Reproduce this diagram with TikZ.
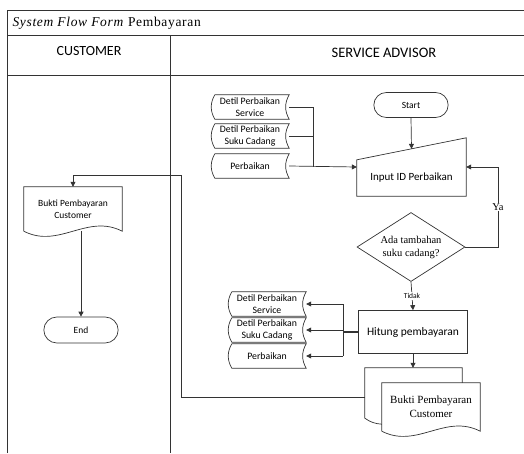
\documentclass[tikz,border=0pt]{standalone}
\usepackage{fontspec}
\setmainfont{Liberation Serif}
\newfontfamily\carlito{Carlito}
\usetikzlibrary{shapes.geometric,shapes.misc,arrows.meta,calc}

\tikzset{
  line/.style={draw=black!80, line width=0.7pt},
  arr/.style={line, -{Triangle[length=5pt,width=5pt]}},
  sans/.style={font=\carlito\fontsize{9.5}{12}\selectfont},
  terminal/.style={rounded rectangle, line, sans, minimum width=81pt, minimum height=25pt},
  proc/.style={rectangle, line, font=\carlito\fontsize{11.5}{13}\selectfont, minimum width=109pt, minimum height=43pt},
  decision/.style={diamond, line, align=center, inner sep=0pt, aspect=1.57,
    minimum width=108pt, minimum height=69pt, font=\fontsize{10.5}{13}\selectfont},
  stored/.style={align=center, inner sep=0pt, minimum width=78pt, minimum height=24pt,
    font=\carlito\fontsize{9.8}{12.5}\selectfont,
    append after command={\pgfextra{
      \draw[line] ($(\tikzlastnode.north west)+(4,0)$) -- (\tikzlastnode.north east)
        to[bend right=30] (\tikzlastnode.south east) -- ($(\tikzlastnode.south west)+(4,0)$)
        to[bend left=30] ($(\tikzlastnode.north west)+(4,0)$);}}},
  doc/.style={align=center, inner sep=1pt, minimum width=98pt, minimum height=44pt,
    append after command={\pgfextra{
      \draw[line] (\tikzlastnode.south west) -- (\tikzlastnode.north west) -- (\tikzlastnode.north east)
        -- (\tikzlastnode.south east) .. controls +(-35,-18) and +(35,18) .. (\tikzlastnode.south west);}}},
}

\begin{document}
\begin{tikzpicture}[x=1pt, y=-1pt]
	\useasboundingbox (0,0) rectangle (524,453);

% kerangka swimlane
\draw[line] (7,453) -- (7,10) -- (524,10);
\draw[line] (7,35) -- (524,35);
\draw[line] (7,75) -- (524,75);
\draw[line] (170,35) -- (170,453);
\node[anchor=west, font=\fontsize{13.5}{15}\selectfont\addfontfeature{LetterSpace=5}] (judul) at (9,23) {\textit{System Flow Form} Pembayaran};
\node[font=\carlito\fontsize{14}{16}\selectfont] (lcust) at (89,51) {CUSTOMER};
\node[font=\carlito\fontsize{14.5}{16}\selectfont] (lsa) at (384,53) {SERVICE ADVISOR};

% SERVICE ADVISOR
\node[terminal] (st) at (411,105) {Start};
\node[font=\carlito\fontsize{11}{13}\selectfont, minimum width=109pt, minimum height=36pt] (inp) at (411.5,178) {Input ID Perbaikan};
\draw[line] (inp.north west) -- ($(inp.north east)+(0,-22)$) -- (inp.south east) -- (inp.south west) -- cycle;
\node[decision] (dec) at (411,247) {Ada tambahan\\suku cadang?};
\node[proc] (hit) at (413,332) {Hitung pembayaran};

\node[stored] (s1) at (250,107) {Detil Perbaikan\\Service};
\node[stored] (s2) at (250,136) {Detil Perbaikan\\Suku Cadang};
\node[stored] (s3) at (250,166) {Perbaikan};

\node[stored] (t1) at (267,304) {Detil Perbaikan\\Service};
\node[stored] (t2) at (267,330) {Detil Perbaikan\\Suku Cadang};
\node[stored] (t3) at (267,356) {Perbaikan};

\node[doc, minimum height=48pt, font=\fontsize{11}{14}\selectfont] (md) at (431,407) {Bukti Pembayaran\\Customer};
\draw[line] ($(md.south west)+(0,-7)$) to[bend left=15] ($(md.south west)+(-17,-13)$)
  |- ($(md.north east)+(-18,-15)$) -- ($(md.north east)+(-18,0)$);

% CUSTOMER
\node[doc, sans] (cd) at (73,209) {Bukti Pembayaran\\Customer};
\node[terminal, minimum height=26pt] (end) at (81,330) {End};

% alur
\coordinate (inL) at ($(inp.west)+(0,-11)$);
\coordinate (inR) at ($(inp.east)+(0,-11)$);
\coordinate (jn) at (313,167);
\coordinate (ya) at (498,247);
\coordinate (kr) at (343,332);
\coordinate (mdt) at ($(md.north)+(0,-15)$);
\coordinate (mdb) at ($(md.west)+(-17,-10)$);
\coordinate (tu) at (181,175);

\draw[arr] (st.south) -- ($(inp.north)+(0,-11)$);
\draw[line] (s1.east) -| (jn);
\draw[line] (s2.east) -- (s2.east -| jn);
\draw[arr] (s3.east) -- (inL);
\draw[arr] (dec.south) -- (hit.north);
\node[fill=white, inner sep=1pt, font=\carlito\fontsize{7.5}{8}\selectfont] (tidak) at (412,296) {Tidak};
\draw[arr] (dec.east) -- (ya) |- (inR);
\node[fill=white, inner sep=1pt, font=\fontsize{10.5}{11}\selectfont] (lya) at (498,207) {Ya};

\draw[line, line width=1.6pt] (hit.west) -- (kr);
\draw[line] (kr |- t1.east) -- (kr |- t3.east);
\foreach \t in {t1,t2,t3}
	\draw[arr] (kr |- \t.east) -- (\t.east);
\draw[arr] (hit.south) -- (hit.south |- mdt);

\draw[arr] (mdb) -| (tu) -| (cd.north);
\draw[arr] (end.north |- cd.south) -- (end.north);
	\end{tikzpicture}
\end{document}
